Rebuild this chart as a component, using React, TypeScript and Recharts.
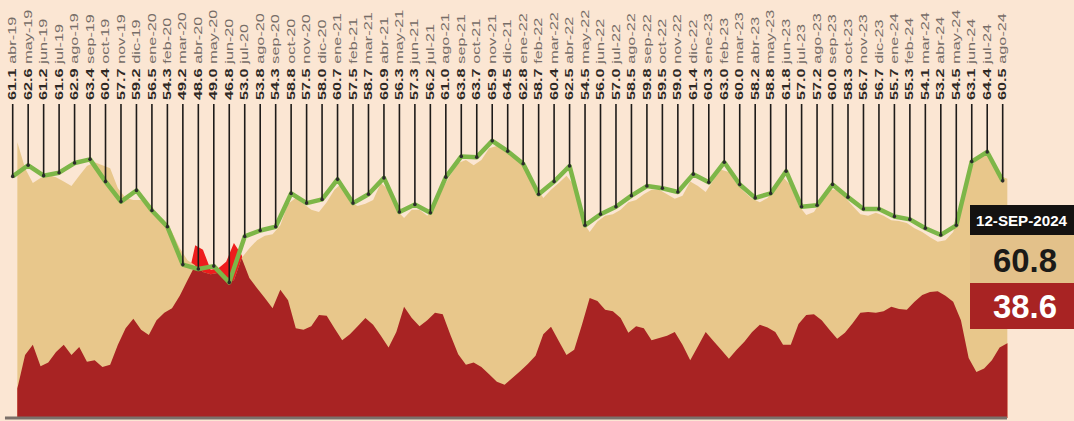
import React from 'react'
import { ComposedChart, Line, Area, XAxis, YAxis, ReferenceLine, LabelList } from 'recharts'

// mensual (promedio), abr-19 .. ago-24
const months = [
  'abr-19', 'may-19', 'jun-19', 'jul-19', 'ago-19', 'sep-19', 'oct-19', 'nov-19', 'dic-19',
  'ene-20', 'feb-20', 'mar-20', 'abr-20', 'may-20', 'jun-20', 'jul-20', 'ago-20', 'sep-20', 'oct-20', 'nov-20', 'dic-20',
  'ene-21', 'feb-21', 'mar-21', 'abr-21', 'may-21', 'jun-21', 'jul-21', 'ago-21', 'sep-21', 'oct-21', 'nov-21', 'dic-21',
  'ene-22', 'feb-22', 'mar-22', 'abr-22', 'may-22', 'jun-22', 'jul-22', 'ago-22', 'sep-22', 'oct-22', 'nov-22', 'dic-22',
  'ene-23', 'feb-23', 'mar-23', 'abr-23', 'may-23', 'jun-23', 'jul-23', 'ago-23', 'sep-23', 'oct-23', 'nov-23', 'dic-23',
  'ene-24', 'feb-24', 'mar-24', 'abr-24', 'may-24', 'jun-24', 'jul-24', 'ago-24',
]

const monthly = [
  61.1, 62.6, 61.2, 61.6, 62.9, 63.4, 60.4, 57.7, 59.2,
  56.5, 54.3, 49.2, 48.6, 49.0, 46.8, 53.0, 53.8, 54.3, 58.8, 57.5, 58.0,
  60.7, 57.5, 58.7, 60.9, 56.3, 57.3, 56.2, 61.0, 63.8, 63.7, 65.9, 64.5,
  62.8, 58.7, 60.4, 62.5, 54.5, 56.0, 57.0, 58.5, 59.8, 59.5, 59.0, 61.4,
  60.3, 63.0, 60.0, 58.2, 58.8, 61.8, 57.0, 57.2, 60.0, 58.3, 56.7, 56.7,
  55.7, 55.3, 54.1, 53.2, 54.5, 63.1, 64.4, 60.5,
]

// seguimiento diario, muestreado cada medio mes desde mediados de abril 2019
const approval = [
  65.7, 62.2, 60.2, 60.9, 61.3, 61.0, 60.4, 59.8, 61.2, 62.5,
  63.0, 62.6, 62.2, 59.5, 58.2, 57.9, 57.9, 57.0, 56.0, 55.2,
  53.6, 51.4, 49.8, 49.1, 48.2, 47.9, 48.1, 47.1, 47.1, 50.1,
  51.4, 52.5, 53.1, 53.3, 54.5, 57.4, 58.2, 57.4, 56.6, 56.3,
  57.6, 59.3, 60.2, 57.6, 57.1, 57.4, 57.9, 60.2, 59.3, 56.6,
  55.5, 56.6, 56.6, 55.8, 57.2, 59.5, 61.3, 62.9, 63.3, 62.6,
  63.3, 64.9, 65.2, 64.7, 64.0, 63.3, 62.2, 59.9, 58.2, 59.3,
  60.2, 61.2, 59.9, 55.2, 53.6, 55.0, 55.8, 56.0, 56.6, 57.6,
  57.9, 58.7, 59.3, 59.3, 58.7, 58.1, 58.5, 60.4, 59.8, 59.0,
  60.6, 62.0, 61.7, 60.1, 59.0, 58.1, 57.6, 58.2, 59.5, 61.0,
  59.9, 57.2, 55.9, 56.3, 57.9, 59.3, 59.3, 58.3, 57.1, 56.0,
  55.8, 56.2, 55.8, 55.2, 55.1, 54.8, 54.1, 53.6, 52.9, 52.3,
  52.5, 53.6, 57.2, 62.0, 63.3, 64.3, 63.6, 61.2, 60.8,
]

const disapproval = [
  32.5, 37.0, 38.4, 35.5, 36.0, 37.4, 38.4, 37.0, 38.1, 36.1,
  36.3, 35.4, 35.7, 38.4, 40.6, 41.9, 40.4, 39.7, 41.7, 42.7,
  43.3, 45.0, 47.1, 51.8, 51.2, 48.5, 48.7, 49.6, 52.1, 50.5,
  47.4, 46.0, 44.7, 43.3, 45.8, 44.4, 40.6, 40.4, 40.9, 42.4,
  42.3, 40.6, 39.0, 39.8, 40.9, 42.0, 41.1, 39.6, 38.0, 40.1,
  43.5, 42.0, 40.9, 41.7, 42.7, 42.5, 39.7, 37.1, 35.7, 36.0,
  35.4, 34.4, 33.4, 33.0, 33.9, 34.8, 35.8, 36.9, 39.8, 40.8,
  38.9, 37.0, 37.7, 41.1, 44.7, 44.3, 43.1, 42.9, 42.0, 40.0,
  40.9, 40.6, 39.0, 39.3, 39.6, 40.1, 38.4, 36.3, 38.2, 40.1,
  38.9, 37.7, 36.5, 37.7, 38.8, 40.1, 41.1, 40.7, 40.1, 38.4,
  38.4, 41.2, 42.4, 42.5, 41.7, 40.4, 39.2, 40.0, 41.3, 42.7,
  42.8, 42.7, 42.9, 43.5, 43.2, 43.1, 44.2, 45.1, 45.5, 45.6,
  45.0, 44.2, 41.7, 36.6, 34.7, 35.2, 36.3, 38.0, 38.6,
]

const lastDate = '12-SEP-2024'
const lastApproval = 60.8
const lastDisapproval = 38.6

const BG = '#fbe6d3'
const BEIGE = '#e8c78b'
const RED = '#a82323'
const BRIGHT = '#ee1c1c'
const GREEN = '#7db648'

const monthData = months.map((m, i) => ({ t: i, label: m, value: monthly[i] }))
const dailyData = approval.map((a, k) => ({
  t: 0.3 + k * 0.5,
  a,
  d: disapproval[k],
  low: Math.min(a, disapproval[k]),
}))

const BASE = 28.5

const StemDot = (props: any) => {
  const { cx, cy, index } = props
  return (
    <g key={`stem-${index}`}>
      <line x1={cx} x2={cx} y1={104} y2={cy} stroke="#1e1b19" strokeWidth={1.6} />
      <circle cx={cx} cy={cy} r={1.8} fill="#2b2b2b" />
    </g>
  )
}

const TopLabel = (props: any) => {
  const { x, index } = props
  return (
    <text
      transform={`translate(${x + 3.6},100) rotate(-90) scale(1.62,1)`}
      fontSize={10}
      fontFamily="'Liberation Sans', Arial, sans-serif"
    >
      <tspan fill="#2f2925" fontWeight={700}>{monthly[index].toFixed(1)}</tspan>
      <tspan fill="#766d67" dx={3}>{months[index]}</tspan>
    </text>
  )
}

function App() {
  return (
    <div style={{ position: 'absolute', left: 0, top: 0, width: 1074, height: 421, background: BG }}>
      <ComposedChart width={1074} height={421} margin={{ top: 0, right: 0, bottom: 0, left: 0 }}>
        <XAxis type="number" dataKey="t" domain={[-0.821, 68.61]} allowDataOverflow hide />
        <YAxis type="number" domain={[28.1, 84.9]} allowDataOverflow hide />
        <Area data={dailyData} type="linear" dataKey="d" baseValue={BASE} fill={BRIGHT} fillOpacity={1} stroke="none" isAnimationActive={false} />
        <Area data={dailyData} type="linear" dataKey="a" baseValue={BASE} fill={BEIGE} fillOpacity={1} stroke="none" isAnimationActive={false} />
        <Area data={dailyData} type="linear" dataKey="low" baseValue={BASE} fill={RED} fillOpacity={1} stroke="none" isAnimationActive={false} />
        <ReferenceLine
          segment={[{ x: -0.5, y: BASE }, { x: 64.28, y: BASE }]}
          stroke="#7b706a"
          strokeWidth={3}
          ifOverflow="visible"
        />
        <Line
          data={monthData}
          type="linear"
          dataKey="value"
          stroke={GREEN}
          strokeWidth={4.5}
          strokeLinejoin="round"
          dot={StemDot}
          activeDot={false}
          isAnimationActive={false}
        >
          <LabelList dataKey="label" content={TopLabel} />
        </Line>
      </ComposedChart>
      <svg width={104} height={124} style={{ position: 'absolute', left: 970, top: 205 }}>
        <rect x={0} y={0} width={104} height={30} fill="#141211" />
        <text x={6} y={21} fill="#fff" fontSize={15.5} fontWeight={700} fontFamily="'Liberation Sans', Arial, sans-serif"
          textLength={91} lengthAdjust="spacingAndGlyphs">{lastDate}</text>
        <rect x={0} y={30} width={104} height={48} fill="#e3c18a" />
        <text x={23} y={67} fill="#1b1a18" fontSize={34} fontWeight={700} fontFamily="'Liberation Sans', Arial, sans-serif"
          textLength={64} lengthAdjust="spacingAndGlyphs">{lastApproval.toFixed(1)}</text>
        <rect x={0} y={78} width={104} height={46} fill={RED} />
        <text x={23} y={113} fill="#fff" fontSize={34} fontWeight={700} fontFamily="'Liberation Sans', Arial, sans-serif"
          textLength={64} lengthAdjust="spacingAndGlyphs">{lastDisapproval.toFixed(1)}</text>
      </svg>
    </div>
  )
}

export default App
